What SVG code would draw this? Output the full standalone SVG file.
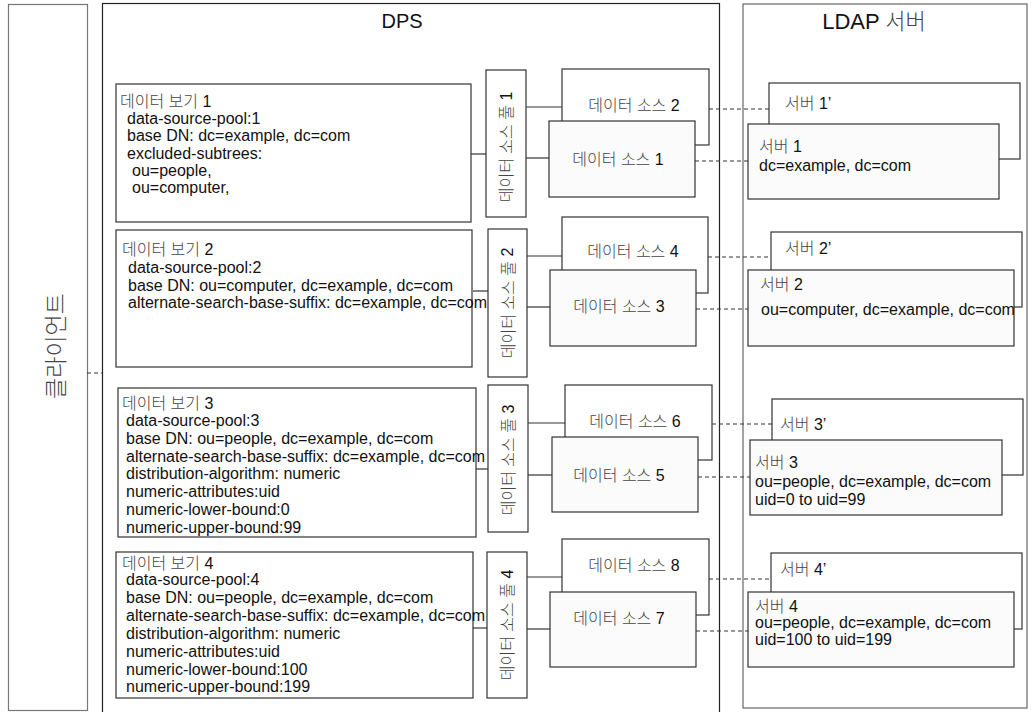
<svg xmlns="http://www.w3.org/2000/svg" width="1032" height="712" viewBox="0 0 1032 712">
<style>
.t{font-family:"Liberation Sans","Noto Sans CJK KR",sans-serif;font-size:16px;fill:#111}
.k{fill:#444;font-weight:300}
.box{fill:#fff;stroke:#333;stroke-width:1.2}
.fr{fill:#fbfbfb;stroke:#333;stroke-width:1.2}
.c{stroke:#333;stroke-width:1.2;fill:none}
.d{stroke:#333;stroke-width:1.2;stroke-dasharray:4 3;fill:none}
.mid{text-anchor:middle}
.title{font-size:20px}
.title2{font-size:22px}
.title3{font-size:23px}
</style>
<rect width="1032" height="712" fill="#fff"/>
<g id="client">
<rect x="8.5" y="4.5" width="79" height="706" fill="#fff" stroke="#777" stroke-width="1.2"/>
<text class="t k title3" text-anchor="middle" dominant-baseline="central" transform="translate(56,346) rotate(-90)">클라이언트</text>
</g>
<g id="dps">
<rect x="102.5" y="3.5" width="617" height="715" fill="#fff" stroke="#222" stroke-width="1.2"/>
<text class="t mid title" x="402" y="28">DPS</text>
</g>
<g id="ldap">
<rect x="743" y="4" width="284" height="704" fill="#fff" stroke="#666" stroke-width="1.2"/>
<text class="t mid title2" x="874" y="29">LDAP <tspan class="k">서버</tspan></text>
</g>
<g id="connectors">
<line class="c" x1="471" y1="154" x2="486" y2="154"/>
<line class="c" x1="526" y1="107" x2="562" y2="107"/>
<line class="c" x1="526" y1="158" x2="549" y2="158"/>
<line class="c" x1="473" y1="291" x2="488" y2="291"/>
<line class="c" x1="527" y1="256" x2="562" y2="256"/>
<line class="c" x1="527" y1="307" x2="550" y2="307"/>
<line class="c" x1="476" y1="469" x2="488" y2="469"/>
<line class="c" x1="528" y1="423" x2="565" y2="423"/>
<line class="c" x1="528" y1="475" x2="552" y2="475"/>
<line class="c" x1="473" y1="628" x2="487" y2="628"/>
<line class="c" x1="527" y1="577" x2="562" y2="577"/>
<line class="c" x1="527" y1="629" x2="550" y2="629"/>
<line class="d" x1="709" y1="109" x2="769" y2="109"/>
<line class="d" x1="695" y1="161" x2="748" y2="161"/>
<line class="d" x1="708" y1="257" x2="771" y2="257"/>
<line class="d" x1="696" y1="309" x2="748" y2="309"/>
<line class="d" x1="712" y1="424" x2="772" y2="424"/>
<line class="d" x1="698" y1="477" x2="750" y2="477"/>
<line class="d" x1="709" y1="579" x2="771" y2="579"/>
<line class="d" x1="696" y1="631" x2="748" y2="631"/>
<line class="d" x1="87" y1="373" x2="103" y2="373" stroke="#777"/>
</g>
<g id="view1">
<rect class="box" x="116" y="84" width="355" height="138"/>
<text class="t" x="120" y="107"><tspan class="k">데이터 보기</tspan> 1</text>
<text class="t" x="127" y="124">data-source-pool:1</text>
<text class="t" x="127" y="141.3">base DN: dc=example, dc=com</text>
<text class="t" x="127" y="158.6">excluded-subtrees:</text>
<text class="t" x="132" y="176">ou=people,</text>
<text class="t" x="132" y="193.3">ou=computer,</text>
</g>
<g id="view2">
<rect class="box" x="116" y="230" width="356" height="137"/>
<text class="t" x="122" y="255"><tspan class="k">데이터 보기</tspan> 2</text>
<text class="t" x="128" y="273">data-source-pool:2</text>
<text class="t" x="128" y="290.5">base DN: ou=computer, dc=example, dc=com</text>
<text class="t" x="128" y="308">alternate-search-base-suffix: dc=example, dc=com</text>
</g>
<g id="view3">
<rect class="box" x="118" y="388" width="358" height="149"/>
<text class="t" x="122" y="409"><tspan class="k">데이터 보기</tspan> 3</text>
<text class="t" x="126" y="426">data-source-pool:3</text>
<text class="t" x="126" y="443.8">base DN: ou=people, dc=example, dc=com</text>
<text class="t" x="126" y="461.6">alternate-search-base-suffix: dc=example, dc=com</text>
<text class="t" x="126" y="479.4">distribution-algorithm: numeric</text>
<text class="t" x="126" y="497.2">numeric-attributes:uid</text>
<text class="t" x="126" y="515">numeric-lower-bound:0</text>
<text class="t" x="126" y="532.5">numeric-upper-bound:99</text>
</g>
<g id="view4">
<rect class="box" x="116" y="552" width="357" height="146"/>
<text class="t" x="122" y="568.5"><tspan class="k">데이터 보기</tspan> 4</text>
<text class="t" x="126" y="584.5">data-source-pool:4</text>
<text class="t" x="126" y="602.5">base DN: ou=people, dc=example, dc=com</text>
<text class="t" x="126" y="620.5">alternate-search-base-suffix: dc=example, dc=com</text>
<text class="t" x="126" y="638.5">distribution-algorithm: numeric</text>
<text class="t" x="126" y="656.5">numeric-attributes:uid</text>
<text class="t" x="126" y="674.5">numeric-lower-bound:100</text>
<text class="t" x="126" y="692.3">numeric-upper-bound:199</text>
</g>
<g id="pool1">
<rect class="box" x="486" y="70" width="40" height="147"/>
<text class="t" text-anchor="middle" dominant-baseline="central" transform="translate(506,147) rotate(-90)"><tspan class="k">데이터 소스 풀</tspan> 1</text>
</g>
<g id="pool2">
<rect class="box" x="488" y="229" width="39" height="148"/>
<text class="t" text-anchor="middle" dominant-baseline="central" transform="translate(507.5,303) rotate(-90)"><tspan class="k">데이터 소스 풀</tspan> 2</text>
</g>
<g id="pool3">
<rect class="box" x="488" y="385" width="40" height="147"/>
<text class="t" text-anchor="middle" dominant-baseline="central" transform="translate(508,460) rotate(-90)"><tspan class="k">데이터 소스 풀</tspan> 3</text>
</g>
<g id="pool4">
<rect class="box" x="487" y="552" width="40" height="146"/>
<text class="t" text-anchor="middle" dominant-baseline="central" transform="translate(507,625) rotate(-90)"><tspan class="k">데이터 소스 풀</tspan> 4</text>
</g>
<g id="ds2">
<rect class="box" x="562" y="69" width="147" height="76"/>
<text class="t mid" x="634" y="111"><tspan class="k">데이터 소스</tspan> 2</text>
</g>
<g id="ds1">
<rect class="fr" x="549" y="121" width="146" height="76"/>
<text class="t mid" x="618" y="165"><tspan class="k">데이터 소스</tspan> 1</text>
</g>
<g id="ds4">
<rect class="box" x="562" y="217" width="146" height="76"/>
<text class="t mid" x="633" y="257"><tspan class="k">데이터 소스</tspan> 4</text>
</g>
<g id="ds3">
<rect class="fr" x="550" y="270" width="146" height="76"/>
<text class="t mid" x="619" y="312"><tspan class="k">데이터 소스</tspan> 3</text>
</g>
<g id="ds6">
<rect class="box" x="565" y="385" width="147" height="75"/>
<text class="t mid" x="635" y="427"><tspan class="k">데이터 소스</tspan> 6</text>
</g>
<g id="ds5">
<rect class="fr" x="552" y="437" width="146" height="75"/>
<text class="t mid" x="619" y="481"><tspan class="k">데이터 소스</tspan> 5</text>
</g>
<g id="ds8">
<rect class="box" x="562" y="539" width="147" height="76"/>
<text class="t mid" x="634" y="571"><tspan class="k">데이터 소스</tspan> 8</text>
</g>
<g id="ds7">
<rect class="fr" x="550" y="592" width="146" height="75"/>
<text class="t mid" x="619" y="624"><tspan class="k">데이터 소스</tspan> 7</text>
</g>
<g id="server1b">
<rect class="box" x="769" y="83" width="251" height="76"/>
<text class="t" x="785" y="109"><tspan class="k">서버</tspan> 1’</text>
</g>
<g id="server1">
<rect class="fr" x="748" y="124" width="251" height="75"/>
<text class="t" x="759" y="152"><tspan class="k">서버</tspan> 1</text>
<text class="t" x="759" y="171">dc=example, dc=com</text>
</g>
<g id="server2b">
<rect class="box" x="771" y="232" width="251" height="75"/>
<text class="t" x="785" y="254"><tspan class="k">서버</tspan> 2’</text>
</g>
<g id="server2">
<rect class="fr" x="748" y="270" width="266" height="76"/>
<text class="t" x="760" y="290"><tspan class="k">서버</tspan> 2</text>
<text class="t" x="761" y="315">ou=computer, dc=example, dc=com</text>
</g>
<g id="server3b">
<rect class="box" x="772" y="399" width="251" height="76"/>
<text class="t" x="780" y="430"><tspan class="k">서버</tspan> 3’</text>
</g>
<g id="server3">
<rect class="fr" x="750" y="440" width="252" height="75" stroke="#111" stroke-width="1.6"/>
<text class="t" x="755" y="468"><tspan class="k">서버</tspan> 3</text>
<text class="t" x="755" y="487">ou=people, dc=example, dc=com</text>
<text class="t" x="755" y="505">uid=0 to uid=99</text>
</g>
<g id="server4b">
<rect class="box" x="771" y="553" width="251" height="76"/>
<text class="t" x="780" y="575"><tspan class="k">서버</tspan> 4’</text>
</g>
<g id="server4">
<rect class="fr" x="748" y="592" width="266" height="75"/>
<text class="t" x="755" y="612"><tspan class="k">서버</tspan> 4</text>
<text class="t" x="755" y="628">ou=people, dc=example, dc=com</text>
<text class="t" x="755" y="645">uid=100 to uid=199</text>
</g>
</svg>
